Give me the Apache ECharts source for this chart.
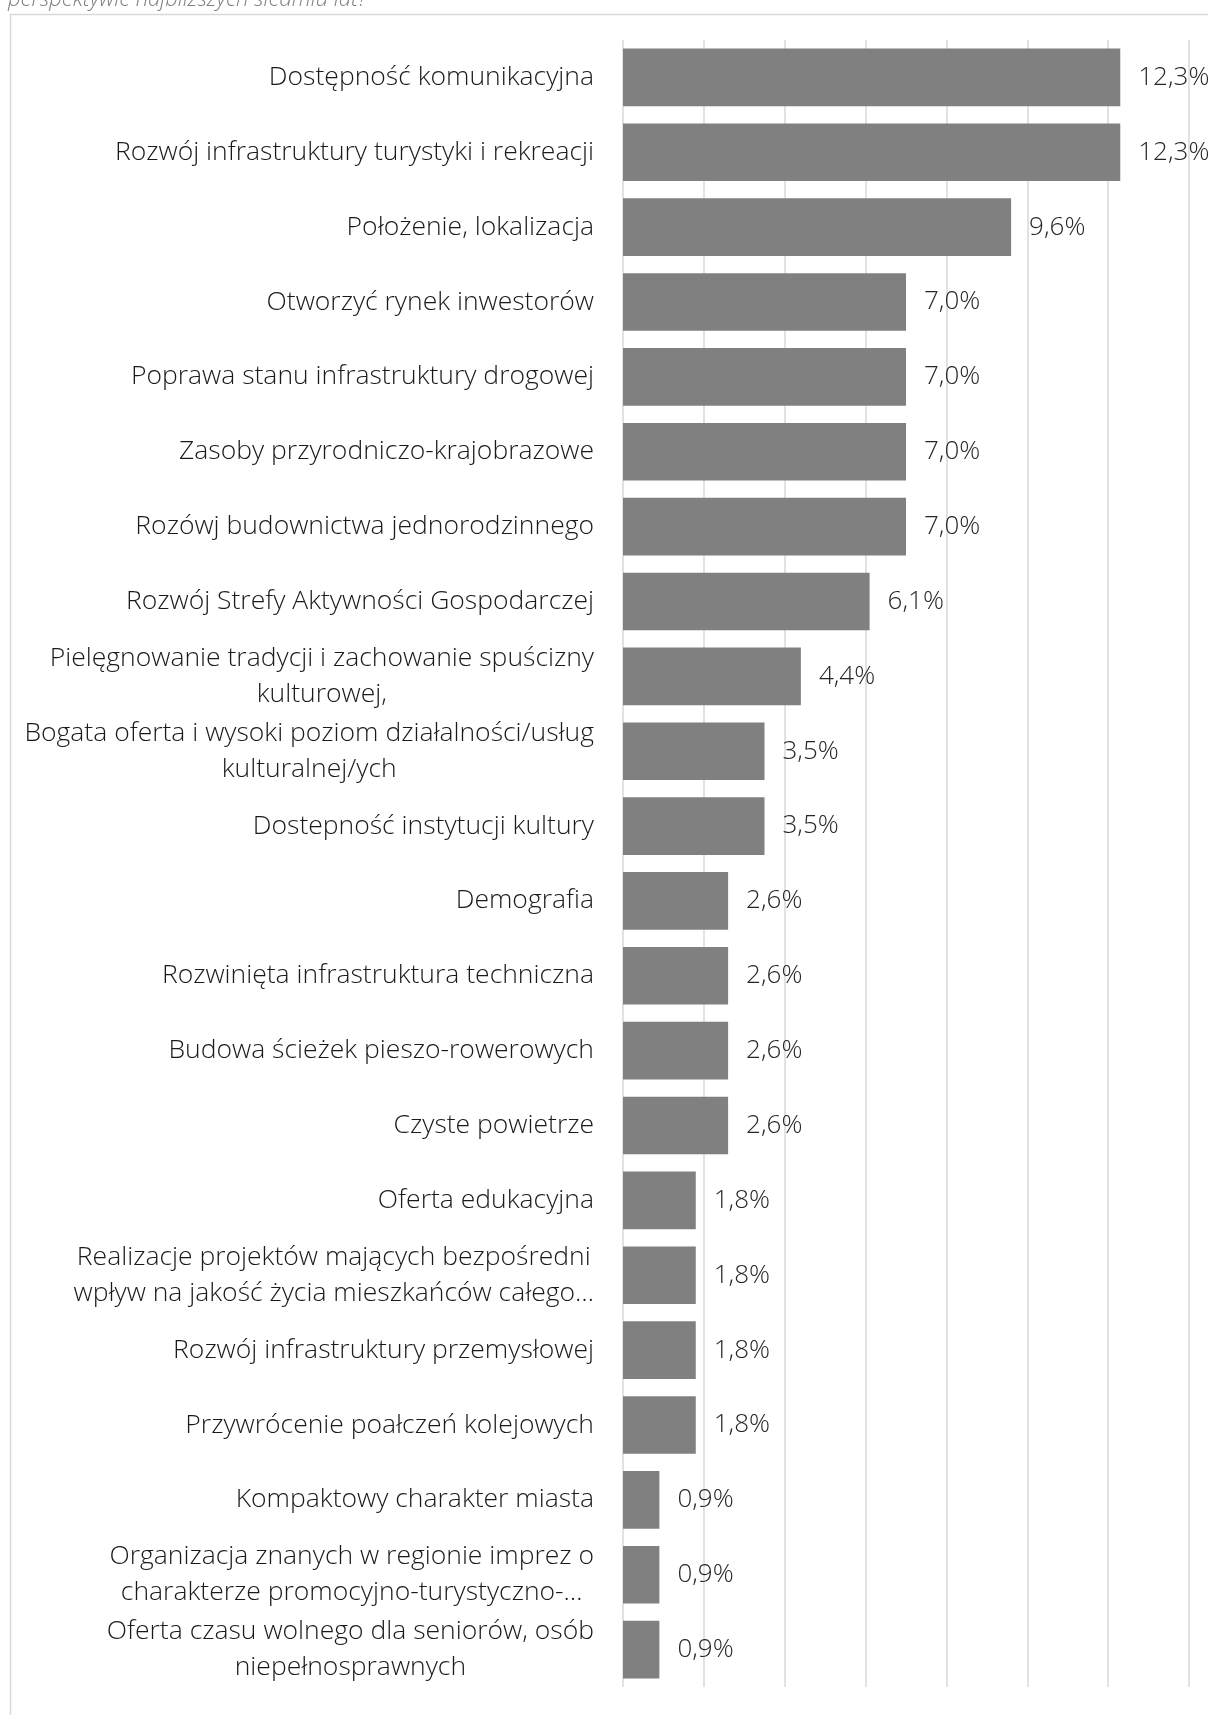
<!DOCTYPE html>
<html>
<head>
<meta charset="utf-8">
<script src="https://cdn.jsdelivr.net/npm/echarts@6/dist/echarts.min.js"></script>
<style>
html,body{margin:0;padding:0;background:#fff;}
#c{width:1208px;height:1715px;}
</style>
</head>
<body>
<div id="c"></div>
<script>
const categories = [
  "Dostępność komunikacyjna",
  "Rozwój infrastruktury turystyki i rekreacji",
  "Położenie, lokalizacja",
  "Otworzyć rynek inwestorów",
  "Poprawa stanu infrastruktury drogowej",
  "Zasoby przyrodniczo-krajobrazowe",
  "Rozówj budownictwa jednorodzinnego",
  "Rozwój Strefy Aktywności Gospodarczej",
  "Pielęgnowanie tradycji i zachowanie spuścizny\nkulturowej,",
  "Bogata oferta i wysoki poziom działalności/usług\nkulturalnej/ych",
  "Dostepność instytucji kultury",
  "Demografia",
  "Rozwinięta infrastruktura techniczna",
  "Budowa ścieżek pieszo-rowerowych",
  "Czyste powietrze",
  "Oferta edukacyjna",
  "Realizacje projektów mających bezpośredni\nwpływ na jakość życia mieszkańców całego…",
  "Rozwój infrastruktury przemysłowej",
  "Przywrócenie poałczeń kolejowych",
  "Kompaktowy charakter miasta",
  "Organizacja znanych w regionie imprez o\ncharakterze promocyjno-turystyczno-…",
  "Oferta czasu wolnego dla seniorów, osób\nniepełnosprawnych"
];
const values = [12.3, 12.3, 9.6, 7.0, 7.0, 7.0, 7.0, 6.1, 4.4, 3.5, 3.5, 2.6, 2.6, 2.6, 2.6, 1.8, 1.8, 1.8, 1.8, 0.9, 0.9, 0.9];
const axisMin = 0, axisMax = 14, axisStep = 2;
const titleFragment = "perspektywie najbliższych siedmiu lat?";

const FONT = "'Open Sans'";
const chart = echarts.init(document.getElementById('c'), null, {renderer: 'canvas'});
chart.setOption({
  animation: false,
  backgroundColor: '#fff',
  graphic: [
    {type: 'rect', left: 8, top: 12, shape: {x: 0, y: 0, width: 1400, height: 1900},
     style: {fill: 'none', stroke: '#d9d9d9', lineWidth: 1.5}, silent: true},
    {type: 'text', x: 8, y: 11, style: {text: titleFragment, fill: '#7f7f7f',
      font: 'italic 300 22px ' + FONT, textAlign: 'left', textVerticalAlign: 'bottom'}}
  ],
  grid: {left: 623, right: 19, top: 40, bottom: 28, containLabel: false},
  xAxis: {
    type: 'value', min: axisMin, max: axisMax, interval: axisStep,
    axisLabel: {show: false}, axisLine: {show: false}, axisTick: {show: false},
    splitLine: {show: true, lineStyle: {color: '#d9d9d9', width: 1.5}}
  },
  yAxis: {
    type: 'category', data: categories, inverse: true,
    axisLine: {show: false}, axisTick: {show: false},
    axisLabel: {
      margin: 29, color: '#1a1a1a', fontFamily: FONT, fontWeight: 300, fontSize: 26.5, lineHeight: 36,
      formatter: v => v.split('\n').map(l => '{c|' + l + '}').join('\n'),
      rich: {c: {align: 'center', color: '#1a1a1a', fontFamily: FONT, fontWeight: 300, fontSize: 26.5, lineHeight: 36}}
    }
  },
  series: [{
    type: 'bar', data: values, barCategoryGap: '23%',
    itemStyle: {color: '#808080'},
    label: {show: true, position: 'right', distance: 18, color: '#262626',
      fontFamily: FONT, fontWeight: 300, fontSize: 26,
      formatter: p => p.value.toFixed(1).replace('.', ',') + '%'}
  }]
});
</script>
</body>
</html>
